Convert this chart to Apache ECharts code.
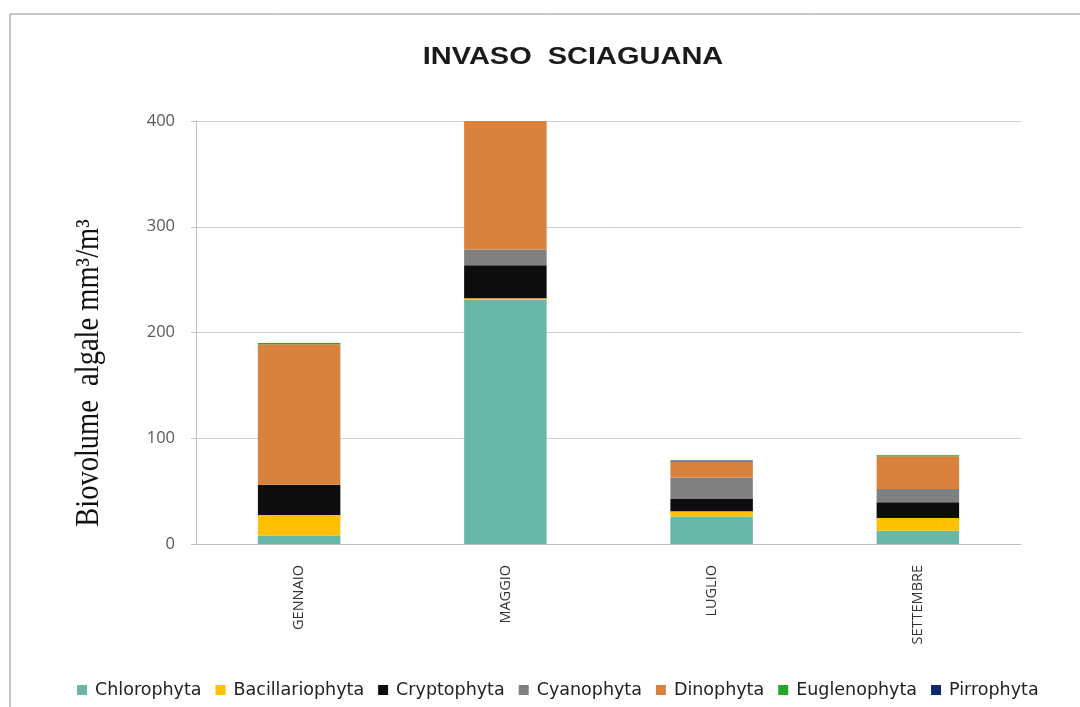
<!DOCTYPE html>
<html>
<head>
<meta charset="utf-8">
<script src="https://cdn.jsdelivr.net/npm/echarts@6/dist/echarts.min.js"></script>
<style>
  html, body { margin: 0; padding: 0; background: #fff; }
  #chart { width: 1080px; height: 707px; }
</style>
</head>
<body>
<div id="chart"></div>
<script>
// Sampling months
const months = ['GENNAIO', 'MAGGIO', 'LUGLIO', 'SETTEMBRE'];

// Algal biovolume per group (mm³/m³)
const chlorophyta     = [8, 231, 26, 12.5];
const bacillariophyta = [19.5, 1.5, 5, 12];
const cryptophyta     = [28.5, 31, 11.5, 15];
const cyanophyta      = [0, 15, 20.5, 12.5];
const dinophyta       = [133, 121.5, 15, 31];
const euglenophyta    = [1, 0, 0, 1];
const pirrophyta      = [0, 0, 1, 0];

const yTicks = [0, 100, 200, 300, 400];

const chartTitle = 'INVASO  SCIAGUANA';
const yTitle = 'Biovolume  algale mm³/m³';

const groups = [
  { name: 'Chlorophyta',     data: chlorophyta,     color: '#68B8AA' },
  { name: 'Bacillariophyta', data: bacillariophyta, color: '#FFC000' },
  { name: 'Cryptophyta',     data: cryptophyta,     color: '#0D0D0D' },
  { name: 'Cyanophyta',      data: cyanophyta,      color: '#808080' },
  { name: 'Dinophyta',       data: dinophyta,       color: '#D9823D' },
  { name: 'Euglenophyta',    data: euglenophyta,    color: '#22A822' },
  { name: 'Pirrophyta',      data: pirrophyta,      color: '#0F2A6B' }
];

const chart = echarts.init(document.getElementById('chart'), null, { renderer: 'canvas' });

chart.setOption({
  backgroundColor: '#ffffff',
  animation: false,
  graphic: [
    {
      // frame around the chart
      type: 'rect',
      shape: { x: 10, y: 14, width: 1100, height: 720 },
      style: { fill: 'none', stroke: '#8c8c8c', lineWidth: 1 },
      z: 0
    },
    {
      // chart title, drawn wide
      type: 'text',
      x: 573,
      y: 58,
      scaleX: 1.26,
      style: {
        text: chartTitle,
        font: 'bold 23px "Liberation Sans", Arial, sans-serif',
        fill: '#1a1a1a',
        align: 'center',
        verticalAlign: 'middle',
        textAlign: 'center',
        textVerticalAlign: 'middle'
      }
    },
    {
      // value axis title
      type: 'text',
      x: 89,
      y: 373,
      rotation: Math.PI / 2,
      scaleY: 1.15,
      style: {
        text: yTitle,
        font: '28.5px "Liberation Serif", "Times New Roman", serif',
        fill: '#111111',
        align: 'center',
        verticalAlign: 'middle',
        textAlign: 'center',
        textVerticalAlign: 'middle'
      }
    }
  ],
  legend: {
    left: 72,
    top: 676,
    itemWidth: 10,
    itemHeight: 10,
    itemGap: 14,
    icon: 'rect',
    textStyle: {
      fontFamily: 'DejaVu Sans, sans-serif',
      fontSize: 17.5,
      color: '#222222',
      padding: [0, 0, 0, 3]
    },
    data: groups.map(g => g.name)
  },
  grid: {
    left: 196,
    top: 121,
    width: 825,
    height: 423
  },
  xAxis: {
    type: 'category',
    data: months,
    axisLine: { lineStyle: { color: '#bfbfbf' } },
    axisTick: { show: false },
    axisLabel: {
      rotate: 90,
      margin: 21,
      fontFamily: 'Open Sans, sans-serif',
      fontSize: 14.5,
      color: '#333333'
    }
  },
  yAxis: {
    type: 'value',
    min: yTicks[0],
    max: yTicks[yTicks.length - 1],
    interval: 100,
    axisLine: { show: true, lineStyle: { color: '#bfbfbf' } },
    axisTick: { show: true, length: 5, lineStyle: { color: '#bfbfbf' } },
    splitLine: { lineStyle: { color: '#d0d0d0' } },
    axisLabel: {
      margin: 21,
      fontFamily: 'Open Sans, sans-serif',
      fontSize: 16.5,
      color: '#595959'
    }
  },
  series: groups.map(g => ({
    name: g.name,
    type: 'bar',
    stack: 'total',
    barWidth: '40%',
    data: g.data,
    itemStyle: { color: g.color }
  }))
});
</script>
</body>
</html>
